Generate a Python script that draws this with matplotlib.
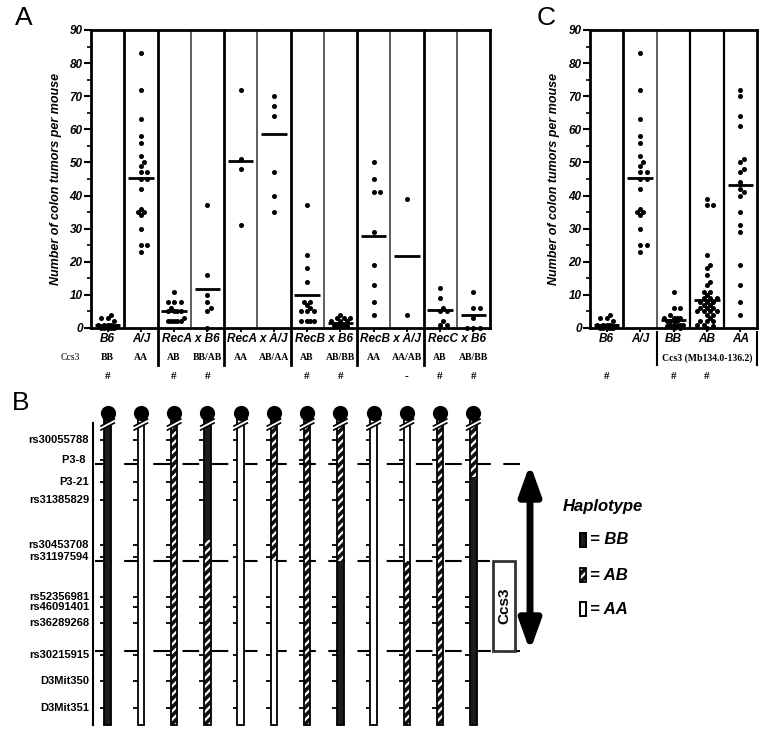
import numpy as np
import matplotlib
matplotlib.use("Agg")
import matplotlib.pyplot as plt
from matplotlib.patches import Rectangle, Polygon

plt.rcParams['font.family'] = ['Liberation Sans', 'DejaVu Sans']
plt.rcParams['hatch.linewidth'] = 1.6

# ---- data ----
a_groups = ["B6", "A/J", "RecA x B6", "RecA x A/J", "RecB x B6", "RecB x A/J", "RecC x B6"]
a_group_cols = [[0], [1], [2, 3], [4, 5], [6, 7], [8, 9], [10, 11]]
a_ccs3 = ["BB", "AA", "AB", "BB/AB", "AA", "AB/AA", "AB", "AB/BB", "AA", "AA/AB", "AB", "AB/BB"]
a_marks = ["#", "", "#", "#", "", "", "#", "#", "", "-", "#", "#"]

b6 = [4, 3, 3, 2, 1, 1, 1, 1, 0.5, 0, 0, 0, 0, 0]
aj = [83, 72, 63, 58, 56, 52, 50, 49, 47, 47, 45, 45, 42, 36, 35, 35, 34, 30, 25, 25, 23]
a_values = [
    b6,
    aj,
    [11, 8, 8, 8, 6, 5, 5, 5, 5, 3, 2, 2, 2, 2, 2],
    [37, 16, 10, 8, 6, 5, 0],
    [72, 51, 48, 31],
    [70, 67, 64, 47, 40, 35],
    [37, 22, 18, 14, 8, 8, 7, 6, 5, 5, 5, 2, 2, 2, 2],
    [4, 3, 3, 3, 2, 2, 2, 1, 1, 1, 0.5, 0.5],
    [50, 45, 41, 41, 29, 19, 13, 8, 4],
    [39, 4],
    [12, 9, 6, 5, 5, 2, 1, 1],
    [11, 6, 6, 3, 0, 0, 0],
]
a_means = [1.0, 45.3, 5.0, 11.7, 50.5, 58.5, 10.0, 1.6, 27.9, 21.6, 5.4, 3.8]

c_labels = ["B6", "A/J", "BB", "AB", "AA"]
c_marks = ["#", "", "#", "#", ""]
c_values = [
    b6,
    aj,
    [11, 6, 6, 4, 3, 3, 3, 3, 2, 2, 2, 2, 1, 1, 1, 1, 0.5, 0.5, 0, 0],
    [39, 37, 37, 22, 19, 18, 16, 14, 13, 11, 11, 10, 9, 9, 9, 8, 8, 8, 7, 7,
     6, 6, 6, 5, 5, 5, 5, 4, 4, 3, 2, 2, 2, 1, 1, 0.5, 0],
    [72, 70, 64, 61, 51, 50, 48, 47, 44, 42, 41, 40, 35, 31, 29, 19, 13, 8, 4],
]
c_means = [1.0, 45.3, 2.5, 8.5, 43.2]

# panel B: marker positions (relative map units, top = 0)
markers = ["rs30055788", "P3-8 ", "P3-21", "rs31385829", "rs30453708", "rs31197594",
           "rs52356981", "rs46091401", "rs36289268", "rs30215915", "D3Mit350", "D3Mit351"]
marker_pos = [0, 20, 42, 60, 105, 117, 157, 167, 183, 215, 241, 268]
bounds = [24, 121, 211]
# haplotype segments per mouse: (from, to, genotype)
chrom_top = -27
chrom_end = 285
hap_segments = [
    [(chrom_top, chrom_end, "BB")],
    [(chrom_top, chrom_end, "AA")],
    [(chrom_top, chrom_end, "AB")],
    [(chrom_top, 100, "BB"), (100, chrom_end, "AB")],
    [(chrom_top, chrom_end, "AA")],
    [(chrom_top, 121, "AB"), (121, chrom_end, "AA")],
    [(chrom_top, chrom_end, "AB")],
    [(chrom_top, 121, "AB"), (121, chrom_end, "BB")],
    [(chrom_top, chrom_end, "AA")],
    [(chrom_top, 121, "AA"), (121, chrom_end, "AB")],
    [(chrom_top, chrom_end, "AB")],
    [(chrom_top, 37, "AB"), (37, chrom_end, "BB")],
]

W, H = 762, 731


def px_box(l, t, r, b):
    return [l / W, 1 - b / H, (r - l) / W, (b - t) / H]


def swarm(vals, xpx, ypx, d=4.6, maxoff=11.0):
    # greedy beeswarm, capped width; offsets returned in column units
    vals = np.asarray(vals, float)
    offs = np.zeros(len(vals))
    placed = []
    cands = [0.0]
    j = 1
    while j * d * 0.7 <= maxoff:
        cands += [j * d * 0.7, -j * d * 0.7]
        j += 1
    for i in np.argsort(vals):
        y = vals[i] * ypx
        best, best_gap = 0.0, -1
        for c in cands:
            gap = min([np.hypot(c - px, y - py) for px, py in placed] or [99])
            if gap >= d:
                best = c
                break
            if gap > best_gap + 0.5:
                best, best_gap = c, gap
        placed.append((best, y))
        offs[i] = best / xpx
    return offs


def dot_panel(ax, values, means, div_styles):
    n = len(values)
    xpx = ax.get_position().width * W / n
    ypx = ax.get_position().height * H / 90
    for i, v in enumerate(values):
        ax.scatter(i + swarm(v, xpx, ypx), v, s=13, color="black", zorder=3, clip_on=False,
                   linewidths=0)
        ax.hlines(means[i], i - 0.38, i + 0.38, color="black", lw=2, zorder=4)
    for i, (c, lw) in enumerate(div_styles):
        ax.axvline(i + 0.5, color=c, lw=lw, zorder=1)
    ax.set_xlim(-0.5, n - 0.5)
    ax.set_ylim(0, 90)
    ax.set_yticks(range(0, 91, 10))
    ax.set_yticks(range(5, 90, 10), minor=True)
    ax.set_xticks(range(n))
    ax.set_xticklabels([])
    ax.tick_params(axis="y", which="major", length=5, width=1.5, labelsize=8.5, pad=1)
    ax.tick_params(axis="y", which="minor", length=3, width=1.2)
    ax.tick_params(axis="x", length=3, width=1.3)
    for lab in ax.get_yticklabels():
        lab.set_fontweight("bold")
        lab.set_fontstyle("italic")
    for s in ax.spines.values():
        s.set_linewidth(2)
    ax.set_ylabel("Number of colon tumors per mouse", fontsize=9, fontweight="bold",
                  fontstyle="italic")


fig = plt.figure(figsize=(W / 100, H / 100), dpi=100)

# ---- panel A ----
axA = fig.add_axes(px_box(91, 30, 490, 328))
a_div = []
for i in range(11):
    boundary = any(i == g[-1] for g in a_group_cols)
    a_div.append(("black", 2) if boundary else ("#444444", 1.2))
dot_panel(axA, a_values, a_means, a_div)
axA.yaxis.set_label_coords(-0.073, 0.5)
tr = axA.get_xaxis_transform()
for g, cols in zip(a_groups, a_group_cols):
    axA.text(np.mean(cols), -0.038, g, transform=tr, ha="center", va="center",
             fontsize=8.5, fontweight="bold", fontstyle="italic")
for i, (g, m) in enumerate(zip(a_ccs3, a_marks)):
    axA.text(i, -0.1, g, transform=tr, ha="center", va="center", fontsize=7,
             fontweight="bold", family="Liberation Serif")
    axA.text(i, -0.163, m, transform=tr, ha="center", va="center", fontsize=8,
             fontweight="bold", family="Liberation Serif")
for cols in a_group_cols[1:-1]:
    axA.plot([cols[-1] + 0.5] * 2, [-0.007, -0.125], transform=tr, color="black", lw=2,
             clip_on=False)
fig.text(70 / W, 1 - 358 / H, "Ccs3", ha="center", va="center", fontsize=7,
         family="Liberation Serif")

# ---- panel C ----
axC = fig.add_axes(px_box(590, 30, 757, 328))
c_div = [("black", 2), ("#444444", 1.2), ("black", 1.6), ("black", 1.6)]
dot_panel(axC, c_values, c_means, c_div)
axC.yaxis.set_label_coords(-0.18, 0.5)
trc = axC.get_xaxis_transform()
for i, (g, m) in enumerate(zip(c_labels, c_marks)):
    axC.text(i, -0.038, g, transform=trc, ha="center", va="center", fontsize=8.5,
             fontweight="bold", fontstyle="italic")
    axC.text(i, -0.163, m, transform=trc, ha="center", va="center", fontsize=8,
             fontweight="bold", family="Liberation Serif")
axC.text(3, -0.1, "Ccs3 (Mb134.0-136.2)", transform=trc, ha="center", va="center",
         fontsize=7, fontweight="bold", family="Liberation Serif")
for x in (1.5, 4.5):
    axC.plot([x, x], [-0.015, -0.125], transform=trc, color="black", lw=1.5, clip_on=False)

# ---- panel B ----
colw = 399 / 12
axB = fig.add_axes(px_box(91, 400, 762, 731))
axB.set_xlim(-0.5, -0.5 + 671 / colw)
axB.set_ylim(291, -40)
axB.axis("off")


def bx(px):
    return (px - 91) / colw - 0.5


half = 0.1
for i, segs in enumerate(hap_segments):
    for y0, y1, g in segs:
        if g == "BB":
            axB.add_patch(Rectangle((i - half, y0), 2 * half, y1 - y0, fc="#1c1c1c",
                                    ec="none", zorder=2))
        elif g == "AB":
            axB.add_patch(Rectangle((i - half, y0), 2 * half, y1 - y0, fc="#111111",
                                    ec="white", hatch="////", lw=0, zorder=2))
        else:
            axB.add_patch(Rectangle((i - half, y0), 2 * half, y1 - y0, fc="white",
                                    ec="none", zorder=2))
    axB.add_patch(Rectangle((i - half, chrom_top), 2 * half, chrom_end - chrom_top,
                            fill=False, ec="black", lw=1.3, zorder=3))
    axB.hlines(marker_pos, i - half - 0.14, i - half, color="black", lw=1.3, zorder=3)
    # break mark
    par = [(i - 0.2, -10), (i + 0.2, -17), (i + 0.2, -21), (i - 0.2, -14)]
    axB.add_patch(Polygon(par, closed=True, fc="white", ec="none", zorder=4))
    axB.plot([i - 0.2, i + 0.2], [-10, -17], color="black", lw=1.2, zorder=5)
    axB.plot([i - 0.2, i + 0.2], [-14, -21], color="black", lw=1.2, zorder=5)
    axB.scatter([i], [chrom_top], s=120, color="black", zorder=6, linewidths=0)

axB.plot([bx(93), bx(93)], [-17, chrom_end], color="black", lw=1.5)
for name, p in zip(markers, marker_pos):
    axB.text(bx(89), p, name, ha="right", va="center", fontsize=8, fontweight="bold")

dash = (0, (8, 6))
axB.hlines(bounds[0], bx(95), bx(530), color="black", lw=1.5, linestyles=dash, zorder=1)
axB.hlines(bounds[1], bx(95), bx(490), color="black", lw=1.5, linestyles=dash, zorder=1)
axB.hlines(bounds[2], bx(95), bx(530), color="black", lw=1.5, linestyles=dash, zorder=1)

axB.add_patch(Rectangle((bx(493), bounds[1]), bx(515) - bx(493), bounds[2] - bounds[1],
                        fill=True, fc="white", ec="#333333", lw=2, zorder=5))
axB.text((bx(493) + bx(515)) / 2, (bounds[1] + bounds[2]) / 2, "Ccs3", rotation=90,
         ha="center", va="center", fontsize=11, fontweight="bold", zorder=6)
axB.annotate("", xy=(bx(530), bounds[0]), xytext=(bx(530), bounds[2]),
             arrowprops=dict(arrowstyle="<|-|>,head_length=1.0,head_width=0.36",
                             mutation_scale=18, lw=5, color="black",
                             shrinkA=0, shrinkB=0))

axB.text(bx(563), 67, "Haplotype", ha="left", va="center", fontsize=12,
         fontweight="bold", fontstyle="italic")
leg = [("BB", 100), ("AB", 135), ("AA", 169)]
for g, y in leg:
    if g == "BB":
        kw = dict(fc="#1c1c1c", ec="black")
    elif g == "AB":
        kw = dict(fc="#111111", ec="white", hatch="////")
    else:
        kw = dict(fc="white", ec="black")
    axB.add_patch(Rectangle((bx(580), y - 7), bx(586) - bx(580), 14, lw=0 if g == "AB" else 1.3,
                            zorder=3, **kw))
    axB.add_patch(Rectangle((bx(580), y - 7), bx(586) - bx(580), 14, fill=False,
                            ec="black", lw=1.3, zorder=4))
    axB.text(bx(590), y, "= " + g, ha="left", va="center", fontsize=12,
             fontweight="bold", fontstyle="italic")

# panel letters
fig.text(15 / W, 1 - 18 / H, "A", fontsize=19, va="center", ha="left")
fig.text(537 / W, 1 - 18 / H, "C", fontsize=19, va="center", ha="left")
fig.text(12 / W, 1 - 403 / H, "B", fontsize=19, va="center", ha="left")

fig.savefig("out.png", dpi=100)
